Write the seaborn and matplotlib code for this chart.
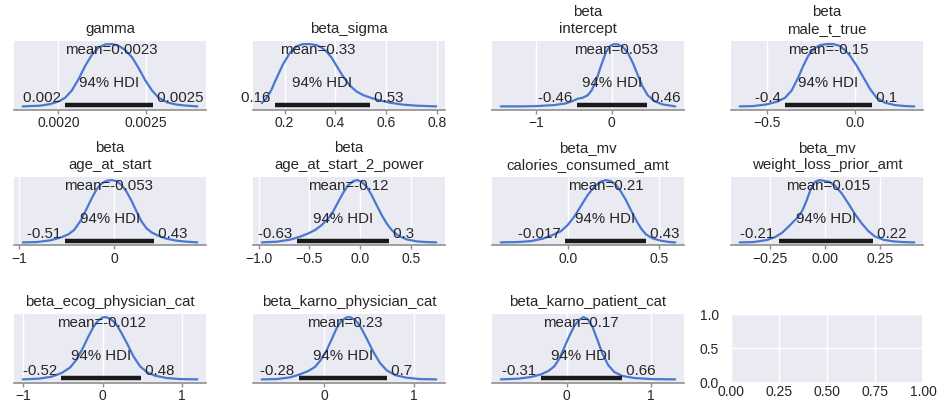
import matplotlib.pyplot as plt
import pandas as pd
import seaborn as sns

#------------------------------------------------------------------------------#
# values (density scaled so the peak is 1)

titles = ["gamma", "beta_sigma", "beta\nintercept", "beta\nmale_t_true",
          "beta\nage_at_start", "beta\nage_at_start_2_power",
          "beta_mv\ncalories_consumed_amt", "beta_mv\nweight_loss_prior_amt",
          "beta_ecog_physician_cat", "beta_karno_physician_cat",
          "beta_karno_patient_cat"]

means = [0.0023, 0.33, 0.053, -0.15, -0.053, -0.12, 0.21, 0.015, -0.012, 0.23, 0.17]
mean_labels = ["0.0023", "0.33", "0.053", "-0.15", "-0.053", "-0.12",
               "0.21", "0.015", "-0.012", "0.23", "0.17"]

hdi_low = [0.00204, 0.161, -0.458, -0.396, -0.512, -0.625, -0.017, -0.21, -0.52, -0.28, -0.31]
hdi_high = [0.00254, 0.534, 0.467, 0.094, 0.421, 0.289, 0.43, 0.22, 0.48, 0.70, 0.66]
hdi_low_labels = ["0.002", "0.16", "-0.46", "-0.4", "-0.51", "-0.63",
                  "-0.017", "-0.21", "-0.52", "-0.28", "-0.31"]
hdi_high_labels = ["0.0025", "0.53", "0.46", "0.1", "0.43", "0.3",
                   "0.43", "0.22", "0.48", "0.7", "0.66"]

x_ticks = [[0.0020, 0.0025], [0.2, 0.4, 0.6, 0.8], [-1, 0], [-0.5, 0.0],
           [-1, 0], [-1.0, -0.5, 0.0, 0.5], [0.0, 0.5], [-0.25, 0.0, 0.25],
           [-1, 0, 1], [0, 1], [0, 1]]
x_tick_labels = [["0.0020", "0.0025"], ["0.2", "0.4", "0.6", "0.8"],
                 ["\u22121", "0"], ["\u22120.5", "0.0"], ["\u22121", "0"],
                 ["\u22121.0", "\u22120.5", "0.0", "0.5"], ["0.0", "0.5"],
                 ["\u22120.25", "0.00", "0.25"], ["\u22121", "0", "1"],
                 ["0", "1"], ["0", "1"]]

gamma_x = [0.001796, 0.001895, 0.001952, 0.0020, 0.002038, 0.002076, 0.002115, 0.002153,
           0.002191, 0.002229, 0.002267, 0.002305, 0.002343, 0.002382, 0.00242, 0.002458,
           0.002496, 0.002534, 0.002572, 0.00262, 0.002677, 0.002735, 0.002792]
gamma_y = [0, 0.011, 0.037, 0.08, 0.138, 0.255, 0.44, 0.654, 0.83, 0.947, 0.995, 1.0,
           0.973, 0.904, 0.787, 0.612, 0.415, 0.255, 0.138, 0.064, 0.027, 0.011, 0]

sigma_x = [0.1105, 0.1276, 0.1474, 0.1671, 0.1934, 0.2197, 0.2461, 0.2724, 0.2987, 0.325,
           0.3447, 0.3645, 0.3842, 0.4039, 0.4303, 0.4566, 0.4829, 0.5092, 0.5421, 0.575,
           0.6145, 0.6671, 0.7197, 0.7961]
sigma_y = [0.053, 0.122, 0.255, 0.44, 0.67, 0.851, 0.963, 1.0, 1.0, 0.984, 0.947, 0.883,
           0.787, 0.654, 0.479, 0.335, 0.239, 0.181, 0.133, 0.096, 0.059, 0.027, 0.011, 0]

intercept_x = [-1.4626, -1.198, -0.978, -0.758, -0.604, -0.515, -0.449, -0.383, -0.317,
               -0.264, -0.207, -0.141, -0.075, -0.018, 0.035, 0.088, 0.145, 0.211, 0.278,
               0.344, 0.41, 0.476, 0.564, 0.674, 0.784, 0.841]
intercept_y = [0, 0, 0.005, 0.021, 0.048, 0.085, 0.122, 0.138, 0.176, 0.255, 0.399, 0.644,
               0.867, 0.973, 1.0, 0.995, 0.957, 0.867, 0.707, 0.511, 0.319, 0.181, 0.085,
               0.032, 0.011, 0]

male_x = [-0.6528, -0.5755, -0.5, -0.4434, -0.3962, -0.3585, -0.3208, -0.2925, -0.2642,
          -0.2358, -0.1981, -0.1604, -0.1226, -0.0887, -0.0566, -0.0283, 0.0094, 0.0472,
          0.0849, 0.1226, 0.1698, 0.2264, 0.283, 0.3358]
male_y = [0, 0.005, 0.032, 0.074, 0.138, 0.255, 0.468, 0.654, 0.814, 0.92, 0.984, 1.0,
          1.0, 0.973, 0.904, 0.814, 0.654, 0.468, 0.282, 0.138, 0.059, 0.021, 0.005, 0]

age_x = [-0.961, -0.814, -0.674, -0.568, -0.481, -0.421, -0.358, -0.295, -0.235, -0.182,
         -0.13, -0.077, -0.025, 0.028, 0.081, 0.133, 0.186, 0.239, 0.291, 0.344, 0.396,
         0.467, 0.554, 0.66, 0.765, 0.877]
age_y = [0, 0.005, 0.032, 0.075, 0.128, 0.198, 0.332, 0.519, 0.706, 0.856, 0.947, 0.989,
         1.0, 0.984, 0.92, 0.813, 0.663, 0.492, 0.332, 0.225, 0.16, 0.107, 0.059, 0.027,
         0.011, 0]

age2_x = [-0.970, -0.822, -0.691, -0.592, -0.51, -0.444, -0.378, -0.313, -0.263, -0.214,
          -0.164, -0.115, -0.066, -0.026, 0.016, 0.066, 0.115, 0.164, 0.214, 0.263, 0.313,
          0.378, 0.461, 0.559, 0.658, 0.753]
age2_y = [0, 0.011, 0.043, 0.091, 0.144, 0.198, 0.278, 0.385, 0.503, 0.652, 0.802, 0.92,
          0.984, 1.0, 0.973, 0.893, 0.759, 0.599, 0.439, 0.305, 0.198, 0.107, 0.048,
          0.016, 0.005, 0]

calories_x = [-0.365, -0.273, -0.2, -0.136, -0.082, -0.036, 0.0, 0.036, 0.073, 0.109,
              0.145, 0.178, 0.209, 0.236, 0.264, 0.291, 0.318, 0.345, 0.373, 0.4, 0.427,
              0.464, 0.509, 0.555, 0.587]
calories_y = [0, 0.005, 0.021, 0.059, 0.118, 0.182, 0.278, 0.412, 0.588, 0.759, 0.893,
              0.973, 1.0, 0.984, 0.92, 0.813, 0.679, 0.519, 0.358, 0.225, 0.128, 0.064,
              0.027, 0.005, 0]

weight_x = [-0.388, -0.326, -0.265, -0.227, -0.197, -0.171, -0.147, -0.121, -0.102, -0.083,
            -0.065, -0.045, -0.026, -0.005, 0.02, 0.045, 0.076, 0.106, 0.136, 0.167, 0.197,
            0.227, 0.265, 0.311, 0.356, 0.406]
weight_y = [0, 0.005, 0.037, 0.086, 0.15, 0.235, 0.321, 0.412, 0.519, 0.679, 0.856, 0.973,
            1.0, 0.989, 0.973, 0.909, 0.786, 0.626, 0.455, 0.305, 0.182, 0.096, 0.043,
            0.016, 0.005, 0]

ecog_x = [-1.008, -0.811, -0.643, -0.517, -0.412, -0.328, -0.252, -0.181, -0.118, -0.055,
          0.0, 0.042, 0.101, 0.168, 0.239, 0.311, 0.387, 0.471, 0.555, 0.66, 0.807, 0.975,
          1.193]
ecog_y = [0, 0.011, 0.043, 0.103, 0.189, 0.319, 0.497, 0.686, 0.838, 0.946, 0.995, 1.0,
          0.968, 0.892, 0.741, 0.568, 0.373, 0.211, 0.119, 0.059, 0.022, 0.005, 0]

karno_phys_x = [-0.69, -0.524, -0.376, -0.266, -0.173, -0.1, -0.037, 0.03, 0.085, 0.14,
                0.196, 0.251, 0.288, 0.343, 0.399, 0.472, 0.546, 0.62, 0.694, 0.786, 0.915,
                1.063, 1.244]
karno_phys_y = [0, 0.005, 0.032, 0.081, 0.135, 0.2, 0.308, 0.47, 0.643, 0.822, 0.946,
                0.995, 1.0, 0.957, 0.859, 0.659, 0.443, 0.265, 0.146, 0.07, 0.027, 0.005, 0]

karno_pat_x = [-0.783, -0.581, -0.423, -0.304, -0.217, -0.146, -0.087, -0.028, 0.032,
               0.091, 0.15, 0.198, 0.249, 0.308, 0.368, 0.427, 0.494, 0.565, 0.664, 0.802,
               1.0, 1.289]
karno_pat_y = [0, 0.011, 0.038, 0.081, 0.135, 0.211, 0.335, 0.514, 0.697, 0.859, 0.957,
               1.0, 0.968, 0.838, 0.622, 0.405, 0.227, 0.119, 0.054, 0.022, 0.005, 0]

curves = [(gamma_x, gamma_y), (sigma_x, sigma_y), (intercept_x, intercept_y),
          (male_x, male_y), (age_x, age_y), (age2_x, age2_y),
          (calories_x, calories_y), (weight_x, weight_y), (ecog_x, ecog_y),
          (karno_phys_x, karno_phys_y), (karno_pat_x, karno_pat_y)]

#------------------------------------------------------------------------------#

sns.set_theme(style="darkgrid")
plt.rcParams['font.family'] = ['Liberation Sans', 'DejaVu Sans']

LINE_COLOR = "#4878d0"
TXT = 10.8
W, H = 938, 409

fig = plt.figure(figsize=(9.38, 4.09), dpi=100)

col_left = [14, 253, 492, 731]
row_top = [41, 177, 314]
ax_w, ax_h = 192, 68.5


def make_ax(r, c):
    return fig.add_axes([col_left[c] / W, 1 - (row_top[r] + ax_h) / H, ax_w / W, ax_h / H])


for i, (cx, cy) in enumerate(curves):
    ax = make_ax(i // 4, i % 4)
    df = pd.DataFrame({"x": cx, "density": cy})
    sns.lineplot(data=df, x="x", y="density", ax=ax, color=LINE_COLOR, lw=1.6,
                 estimator=None, sort=False)
    ax.set_ylim(-0.05, 1.05)
    top = ax.get_ylim()[1]

    # HDI bar and labels
    ax.plot([hdi_low[i], hdi_high[i]], [top * 0.02, top * 0.02], lw=3.2, color="k",
            solid_capstyle="butt")
    ax.text(hdi_low[i], top * 0.07, hdi_low_labels[i] + " ", size=TXT, ha="right")
    ax.text(hdi_high[i], top * 0.07, " " + hdi_high_labels[i], size=TXT, ha="left")
    ax.text((hdi_low[i] + hdi_high[i]) / 2, top * 0.3, "94% HDI", size=TXT, ha="center")
    ax.text(means[i], top * 0.8, "mean=" + mean_labels[i], size=TXT, ha="center")

    ax.set_title(titles[i], fontsize=TXT, pad=6)
    ax.set_xlabel("")
    ax.set_ylabel("")
    ax.set_yticks([])
    ax.set_xticks(x_ticks[i])
    ax.set_xticklabels(x_tick_labels[i])
    ax.grid(axis="x", color="white", lw=1)
    for s in ["left", "right", "top"]:
        ax.spines[s].set_visible(False)
    ax.spines["bottom"].set_visible(True)
    ax.spines["bottom"].set_color("#8f8f8f")
    ax.spines["bottom"].set_linewidth(1.2)
    ax.tick_params(axis="x", bottom=True, length=3, width=1, color="#8f8f8f",
                   labelsize=10, pad=2)

# the unused 12th slot
ax = make_ax(2, 3)
ax.set_xlim(0, 1)
ax.set_ylim(0, 1)
ax.set_xticks([0.0, 0.25, 0.5, 0.75, 1.0])
ax.set_yticks([0.0, 0.5, 1.0])
ax.tick_params(axis="x", length=0, labelsize=10, pad=1.5)
ax.tick_params(axis="y", length=0, labelsize=10, pad=8.5)

fig.savefig("out.png", dpi=100)
